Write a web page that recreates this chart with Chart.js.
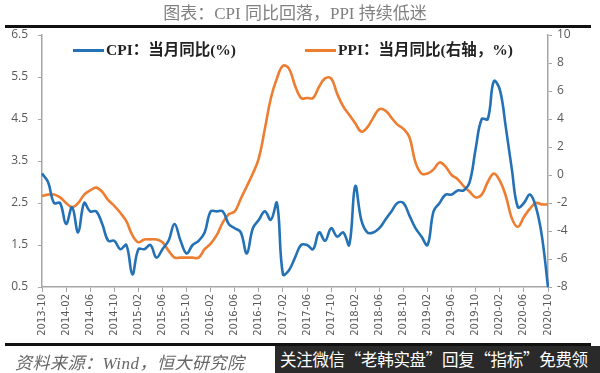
<!DOCTYPE html>
<html>
<head>
<meta charset="utf-8">
<script src="https://cdn.jsdelivr.net/npm/chart.js@4.4.1/dist/chart.umd.min.js"></script>
<style>
  html, body { margin:0; padding:0; background:#fff; }
  #wrap { position:relative; width:600px; height:373px; overflow:hidden; background:#fff; }
  #c { position:absolute; left:0; top:0; }
  .title { position:absolute; left:0; width:590px; top:4px; line-height:20px; text-align:center; font-family:"Liberation Serif","Noto Sans CJK SC",serif; font-size:17px; color:#808080; white-space:nowrap; }
  .rule { position:absolute; left:5px; width:586px; height:3px; background:#111; }
  .leg { position:absolute; top:40px; font-family:"Liberation Serif","Noto Sans CJK SC",serif; font-weight:bold; font-size:15.5px; color:#222; white-space:nowrap; line-height:20px; }
  .leg i { display:inline-block; width:31px; height:2.5px; vertical-align:middle; margin-right:2px; position:relative; top:-1px; }
  .foot { position:absolute; left:15px; top:349px; font-family:"Liberation Serif","Noto Sans CJK SC",serif; font-style:italic; font-size:17px; color:#666; white-space:nowrap; letter-spacing:0.5px; }
  .banner { position:absolute; left:275px; top:346px; width:325px; height:27px; background:#2a2a2a; color:#fff; font-family:"Noto Sans CJK SC",sans-serif; font-size:16.5px; line-height:27px; white-space:nowrap; padding-left:5px; box-sizing:border-box; letter-spacing:-0.3px; }
</style>
</head>
<body>
<div id="wrap">
  <canvas id="c" width="600" height="373"></canvas>
  <div class="title">图表：CPI 同比回落，PPI 持续低迷</div>
  <div class="rule" style="top:25px"></div>
  <div class="leg" style="left:73px"><i style="background:#2471b5"></i>CPI：当月同比(%)</div>
  <div class="leg" style="left:305px"><i style="background:#ed7d31"></i>PPI：当月同比(右轴，%)</div>
  <div class="rule" style="top:343px"></div>
  <div class="foot">资料来源：Wind，恒大研究院</div>
  <div class="banner">关注微信“老韩实盘”回复“指标”免费领</div>
</div>
<script>
const months = [
 '2013-10','2013-11','2013-12',
 '2014-01','2014-02','2014-03','2014-04','2014-05','2014-06','2014-07','2014-08','2014-09','2014-10','2014-11','2014-12',
 '2015-01','2015-02','2015-03','2015-04','2015-05','2015-06','2015-07','2015-08','2015-09','2015-10','2015-11','2015-12',
 '2016-01','2016-02','2016-03','2016-04','2016-05','2016-06','2016-07','2016-08','2016-09','2016-10','2016-11','2016-12',
 '2017-01','2017-02','2017-03','2017-04','2017-05','2017-06','2017-07','2017-08','2017-09','2017-10','2017-11','2017-12',
 '2018-01','2018-02','2018-03','2018-04','2018-05','2018-06','2018-07','2018-08','2018-09','2018-10','2018-11','2018-12',
 '2019-01','2019-02','2019-03','2019-04','2019-05','2019-06','2019-07','2019-08','2019-09','2019-10','2019-11','2019-12',
 '2020-01','2020-02','2020-03','2020-04','2020-05','2020-06','2020-07','2020-08','2020-09','2020-10'
];
const cpi = [
 3.2, 3.0, 2.5,
 2.5, 2.0, 2.4, 1.8, 2.5, 2.3, 2.3, 2.0, 1.6, 1.6, 1.4, 1.5,
 0.8, 1.4, 1.4, 1.5, 1.2, 1.4, 1.6, 2.0, 1.6, 1.3, 1.5, 1.6,
 1.8, 2.3, 2.3, 2.3, 2.0, 1.9, 1.8, 1.3, 1.9, 2.1, 2.3, 2.1,
 2.5, 0.8, 0.9, 1.2, 1.5, 1.5, 1.4, 1.8, 1.6, 1.9, 1.7, 1.8,
 1.5, 2.9, 2.1, 1.8, 1.8, 1.9, 2.1, 2.3, 2.5, 2.5, 2.2, 1.9,
 1.7, 1.5, 2.3, 2.5, 2.7, 2.7, 2.8, 2.8, 3.0, 3.8, 4.5, 4.5,
 5.4, 5.2, 4.3, 3.3, 2.4, 2.5, 2.7, 2.4, 1.7, 0.5
];
const ppi = [
 -1.5, -1.4, -1.4,
 -1.6, -2.0, -2.3, -2.0, -1.4, -1.1, -0.9, -1.2, -1.8, -2.2, -2.7, -3.3,
 -4.3, -4.8, -4.6, -4.6, -4.6, -4.8, -5.4, -5.9, -5.9, -5.9, -5.9, -5.9,
 -5.3, -4.9, -4.3, -3.4, -2.8, -2.6, -1.7, -0.8, 0.1, 1.2, 3.3, 5.5,
 6.9, 7.8, 7.6, 6.4, 5.5, 5.5, 5.5, 6.3, 6.9, 6.9, 5.8, 4.9,
 4.3, 3.7, 3.1, 3.4, 4.1, 4.7, 4.6, 4.1, 3.6, 3.3, 2.7, 0.9,
 0.1, 0.1, 0.4, 0.9, 0.6, 0.0, -0.3, -0.8, -1.2, -1.6, -1.4, -0.5,
 0.1, -0.4, -1.5, -3.1, -3.7, -3.0, -2.4, -2.0, -2.1, -2.1
];
const leftTicks = [0.5, 1.5, 2.5, 3.5, 4.5, 5.5, 6.5];
const rightTicks = [-8, -6, -4, -2, 0, 2, 4, 6, 8, 10];
const xTickEvery = 4;

const axisColor = '#a6a6a6';
const tickFont = { family: '"Open Sans","DejaVu Sans",sans-serif', size: 12 };
const xFont = { family: '"DejaVu Sans",sans-serif', size: 10 };

new Chart(document.getElementById('c'), {
  type: 'line',
  data: {
    labels: months,
    datasets: [
      { label: 'CPI：当月同比(%)', data: cpi, yAxisID: 'y', borderColor: '#2471b5', borderWidth: 2.6, pointRadius: 0, tension: 0.4, fill: false },
      { label: 'PPI：当月同比(右轴，%)', data: ppi, yAxisID: 'y1', borderColor: '#ed7d31', borderWidth: 2.6, pointRadius: 0, tension: 0.4, fill: false }
    ]
  },
  options: {
    responsive: false,
    animation: false,
    devicePixelRatio: 1,
    layout: { padding: { top: 35, left: 0, right: 0, bottom: 0 } },
    plugins: { legend: { display: false }, tooltip: { enabled: false } },
    scales: {
      x: {
        offset: false,
        grid: { display: true, drawOnChartArea: false, drawTicks: true, tickLength: 5, color: axisColor },
        border: { display: true, color: axisColor, width: 1.5 },
        ticks: {
          autoSkip: false, maxRotation: 90, minRotation: 90, padding: 2,
          color: '#595959', font: xFont,
          callback: function(v, i) { return i % xTickEvery === 0 ? months[i] : null; }
        },
        afterFit: s => { s.height = 86; }
      },
      y: {
        position: 'left', min: 0.5, max: 6.5,
        afterBuildTicks: s => { s.ticks = leftTicks.map(v => ({ value: v })); },
        grid: { display: true, drawOnChartArea: false, drawTicks: true, tickLength: 4, color: axisColor },
        border: { display: true, color: axisColor, width: 1.5 },
        ticks: { color: '#595959', font: tickFont, padding: 10, callback: v => v.toFixed(1) },
        afterFit: s => { s.width = 42; }
      },
      y1: {
        position: 'right', min: -8, max: 10,
        afterBuildTicks: s => { s.ticks = rightTicks.map(v => ({ value: v })); },
        grid: { display: true, drawOnChartArea: false, drawTicks: true, tickLength: 4, color: axisColor },
        border: { display: true, color: axisColor, width: 1.5 },
        ticks: { color: '#595959', font: tickFont, padding: 5, callback: v => String(v) },
        afterFit: s => { s.width = 52; }
      }
    }
  }
});
</script>
</body>
</html>
